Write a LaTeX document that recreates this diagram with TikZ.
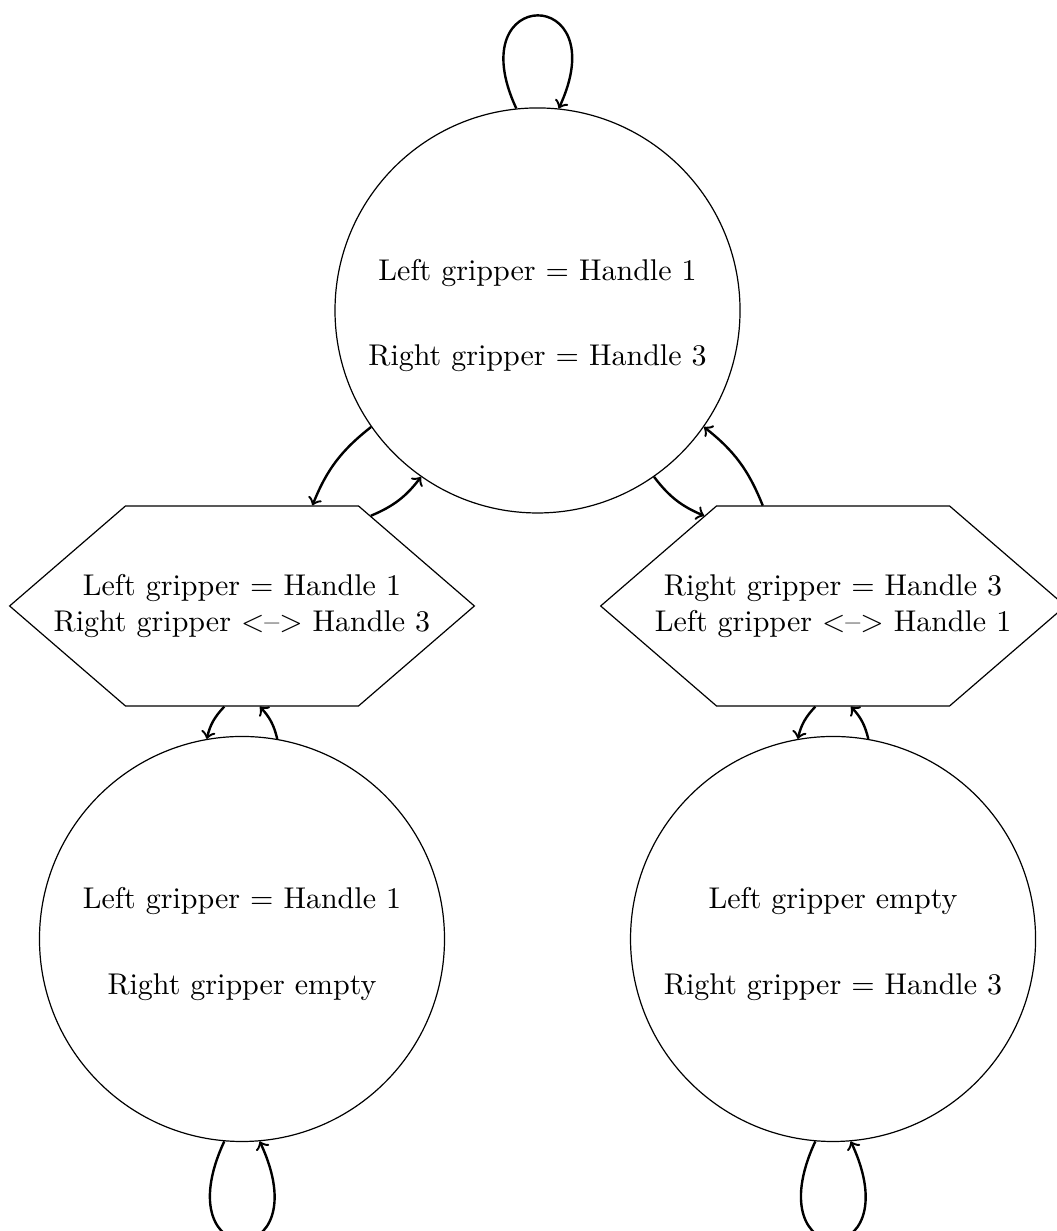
\documentclass[tikz,border=0pt]{standalone}
\usetikzlibrary{shapes.symbols}
\begin{document}
\begin{tikzpicture}[state/.style={draw, circle, minimum size=4.745cm, align=center},
  hexa/.style={draw, signal, signal to=west and east, signal pointer angle=81.6,
    minimum height=2.343cm, text width=4.6cm, align=center, inner xsep=-0.935cm}]
\useasboundingbox (-6.297,-10.784) rectangle (6.074,3.637);
\node[state] (1) at (0,0) {\rule{0pt}{10.3pt}Left gripper = Handle 1\\[16.5pt] Right gripper = Handle 3};
\node[hexa] (2) at (-3.462,-3.462) {Left gripper = Handle 1\\ Right gripper <--> Handle 3};
\node[hexa] (3) at (3.462,-3.462) {Right gripper = Handle 3\\ Left gripper <--> Handle 1};
\node[state] (4) at (-3.462,-7.363) {\rule{0pt}{10.3pt}Left gripper = Handle 1\\[16.5pt] Right gripper empty};
\node[state] (5) at (3.462,-7.363) {\rule{0pt}{10.3pt}Left gripper empty\\[16.5pt] Right gripper = Handle 3};
\path[draw,thick,->] (1.96) .. controls +(115:1.6) and +(65:1.6) .. (1.84);
\path[draw,thick,->] (1.215) to[bend right=15] (2.55);
\path[draw,thick,->] (2.35) to[bend right=15] (1.235);
\path[draw,thick,->] (1.305) to[bend right=15] (3.145);
\path[draw,thick,->] (3.125) to[bend right=15] (1.325);
\path[draw,thick,->] (2.260) to[bend right=15] (4.100);
\path[draw,thick,->] (4.80) to[bend right=15] (2.280);
\path[draw,thick,->] (3.260) to[bend right=15] (5.100);
\path[draw,thick,->] (5.80) to[bend right=15] (3.280);
\path[draw,thick,->] (4.265) .. controls +(245:1.7) and +(295:1.7) .. (4.275);
\path[draw,thick,->] (5.265) .. controls +(245:1.7) and +(295:1.7) .. (5.275);
\end{tikzpicture}
\end{document}
